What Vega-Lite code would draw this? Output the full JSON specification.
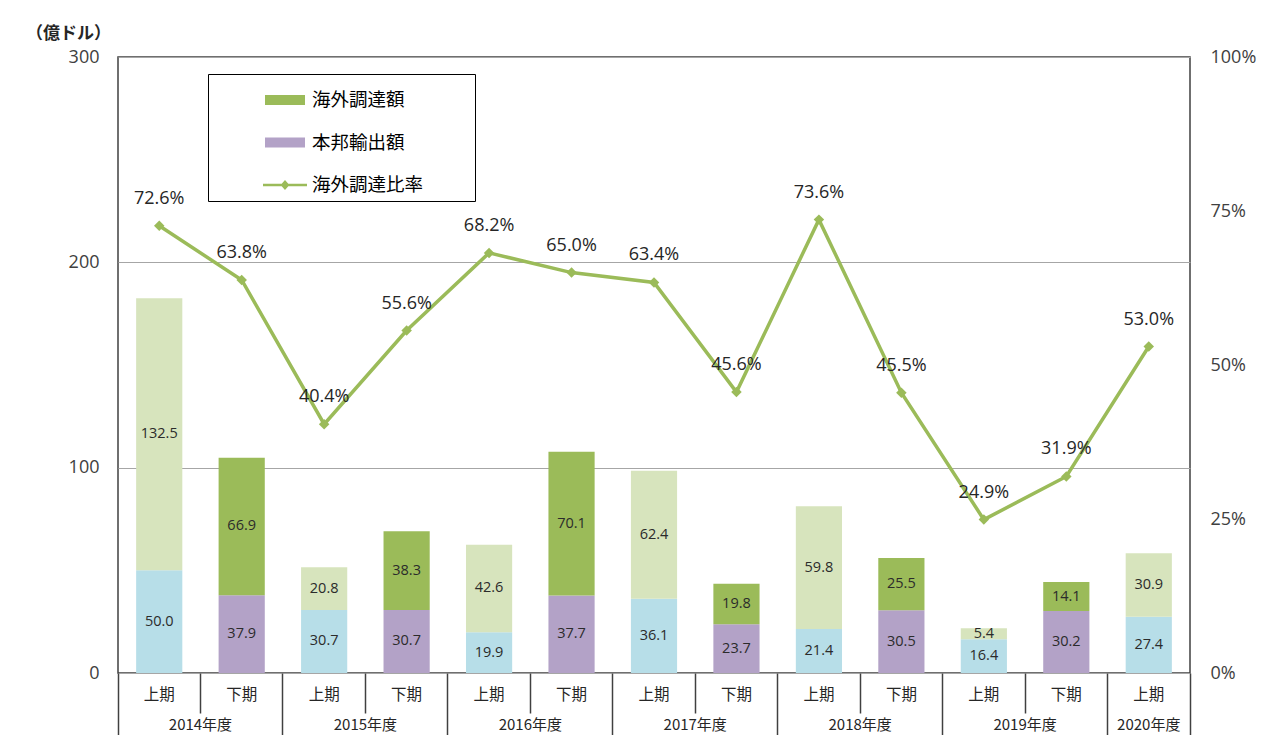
{
  "$schema": "https://vega.github.io/schema/vega-lite/v6.json",
  "width": 1072,
  "height": 616,
  "autosize": {"type": "none"},
  "padding": {"left": 118, "top": 57, "right": 86, "bottom": 62},
  "background": "white",
  "config": {
    "font": "Open Sans, Noto Sans CJK JP",
    "view": {"stroke": "#404040", "strokeWidth": 1.5},
    "axis": {"labelFont": "Open Sans, Noto Sans CJK JP", "titleFont": "Noto Sans CJK JP", "labelColor": "#262626"},
    "legend": {
      "labelFont": "Noto Sans CJK JP",
      "labelFontSize": 18.5,
      "labelColor": "#000000",
      "symbolSize": 1600,
      "symbolStrokeWidth": 0,
      "symbolType": "M-1,-0.25H1V0.25H-1Z",
      "strokeColor": "#000000",
      "fillColor": "white",
      "padding": 6,
      "rowPadding": 12.5,
      "symbolOffset": 51,
      "labelOffset": 7,
      "labelLimit": 300
    }
  },
  "datasets": {
    "bars": [
      {"cat": "2014上期", "half": "上期", "kind": "本邦輸出額", "value": 50.0},
      {"cat": "2014上期", "half": "上期", "kind": "海外調達額", "value": 132.5},
      {"cat": "2014下期", "half": "下期", "kind": "本邦輸出額", "value": 37.9},
      {"cat": "2014下期", "half": "下期", "kind": "海外調達額", "value": 66.9},
      {"cat": "2015上期", "half": "上期", "kind": "本邦輸出額", "value": 30.7},
      {"cat": "2015上期", "half": "上期", "kind": "海外調達額", "value": 20.8},
      {"cat": "2015下期", "half": "下期", "kind": "本邦輸出額", "value": 30.7},
      {"cat": "2015下期", "half": "下期", "kind": "海外調達額", "value": 38.3},
      {"cat": "2016上期", "half": "上期", "kind": "本邦輸出額", "value": 19.9},
      {"cat": "2016上期", "half": "上期", "kind": "海外調達額", "value": 42.6},
      {"cat": "2016下期", "half": "下期", "kind": "本邦輸出額", "value": 37.7},
      {"cat": "2016下期", "half": "下期", "kind": "海外調達額", "value": 70.1},
      {"cat": "2017上期", "half": "上期", "kind": "本邦輸出額", "value": 36.1},
      {"cat": "2017上期", "half": "上期", "kind": "海外調達額", "value": 62.4},
      {"cat": "2017下期", "half": "下期", "kind": "本邦輸出額", "value": 23.7},
      {"cat": "2017下期", "half": "下期", "kind": "海外調達額", "value": 19.8},
      {"cat": "2018上期", "half": "上期", "kind": "本邦輸出額", "value": 21.4},
      {"cat": "2018上期", "half": "上期", "kind": "海外調達額", "value": 59.8},
      {"cat": "2018下期", "half": "下期", "kind": "本邦輸出額", "value": 30.5},
      {"cat": "2018下期", "half": "下期", "kind": "海外調達額", "value": 25.5},
      {"cat": "2019上期", "half": "上期", "kind": "本邦輸出額", "value": 16.4},
      {"cat": "2019上期", "half": "上期", "kind": "海外調達額", "value": 5.4},
      {"cat": "2019下期", "half": "下期", "kind": "本邦輸出額", "value": 30.2},
      {"cat": "2019下期", "half": "下期", "kind": "海外調達額", "value": 14.1},
      {"cat": "2020上期", "half": "上期", "kind": "本邦輸出額", "value": 27.4},
      {"cat": "2020上期", "half": "上期", "kind": "海外調達額", "value": 30.9}
    ],
    "rate": [
      {"cat": "2014上期", "rate": 0.726},
      {"cat": "2014下期", "rate": 0.638},
      {"cat": "2015上期", "rate": 0.404},
      {"cat": "2015下期", "rate": 0.556},
      {"cat": "2016上期", "rate": 0.682},
      {"cat": "2016下期", "rate": 0.650},
      {"cat": "2017上期", "rate": 0.634},
      {"cat": "2017下期", "rate": 0.456},
      {"cat": "2018上期", "rate": 0.736},
      {"cat": "2018下期", "rate": 0.455},
      {"cat": "2019上期", "rate": 0.249},
      {"cat": "2019下期", "rate": 0.319},
      {"cat": "2020上期", "rate": 0.530}
    ]
  },
  "layer": [
    {
      "data": {"name": "bars"},
      "mark": {"type": "bar", "width": {"band": 0.56}},
      "encoding": {
        "x": {
          "field": "cat", "type": "nominal",
          "scale": {"paddingInner": 0, "paddingOuter": 0},
          "axis": {"orient": "bottom", "labelExpr": "slice(datum.value, 4)", "ticks": false, "domain": false, "labelPadding": 21, "labelBaseline": "middle", "labelAngle": 0, "labelFontSize": 15.5, "labelFont": "Noto Sans CJK JP", "title": null}
        },
        "y": {
          "field": "value", "type": "quantitative", "stack": "zero",
          "scale": {"domain": [0, 300], "nice": false},
          "axis": {"orient": "left", "values": [0, 100, 200, 300], "grid": true, "gridColor": "#a6a6a6", "gridWidth": 1.2, "domain": false, "ticks": false, "labelPadding": 19, "labelFontSize": 18, "labelColor": "#404040", "title": "（億ドル）", "titleAngle": 0, "titleX": -50, "titleY": -24, "titleAlign": "center", "titleBaseline": "middle", "titleFontSize": 17, "titleFontWeight": "bold", "titleColor": "#262626"}
        },
        "color": {
          "field": "kind", "type": "nominal",
          "scale": {"domain": ["海外調達額", "本邦輸出額", "海外調達比率"], "range": ["#9bbb59", "#b3a2c7", "#9bbb59"]},
          "legend": {
            "orient": "none", "legendX": 90, "legendY": 17, "title": null,
            "encode": {"symbols": {"update": {"shape": {"signal": "datum.value == '海外調達比率' ? 'M-1.1,-0.06H1.1V0.06H-1.1Z M0,-0.25L0.22,0L0,0.25L-0.22,0Z M9.2,0Z' : 'M-1,-0.25H1V0.25H-1Z M9.2,0Z'"}}}}
          },
          "condition": [
            {"test": "datum.half == '上期' && datum.kind == '本邦輸出額'", "value": "#b7dee8"},
            {"test": "datum.half == '上期' && datum.kind == '海外調達額'", "value": "#d7e4bd"}
          ]
        },
        "order": {"field": "kind", "type": "ordinal", "sort": "ascending"}
      }
    },
    {
      "data": {"name": "bars"},
      "transform": [
        {"stack": "value", "groupby": ["cat"], "sort": [{"field": "kind", "order": "ascending"}], "as": ["y0", "y1"]},
        {"fold": ["y0", "y1"], "as": ["edge", "pos"]},
        {"aggregate": [{"op": "mean", "field": "pos", "as": "mid"}, {"op": "max", "field": "value", "as": "v"}], "groupby": ["cat", "kind"]}
      ],
      "mark": {"type": "text", "fontSize": 14.5, "color": "#2b2b2b", "baseline": "middle", "align": "center"},
      "encoding": {
        "x": {
          "field": "cat", "type": "nominal",
          "axis": {"orient": "bottom", "labelExpr": "slice(datum.value, 4) == '上期' ? slice(datum.value, 0, 4) + '年度' : ''", "ticks": false, "domain": false, "labelPadding": 51, "labelBaseline": "middle", "labelAngle": 0, "labelFontSize": 15, "labelFont": "Noto Sans CJK JP", "labelOffset": {"condition": {"test": "datum.value == '2020上期'", "value": 0}, "value": 41.23}, "title": null}
        },
        "y": {"field": "mid", "type": "quantitative", "scale": {"domain": [0, 300], "nice": false}, "axis": null},
        "text": {"field": "v", "type": "quantitative", "format": ".1f"}
      }
    },
    {
      "data": {"name": "rate"},
      "mark": {"type": "line", "color": "#9bbb59", "strokeWidth": 3.5},
      "encoding": {
        "x": {
          "field": "cat", "type": "nominal",
          "axis": {"orient": "bottom", "labels": false, "domain": false, "ticks": true, "bandPosition": 0, "tickSize": {"condition": {"test": "slice(datum.value, 4) == '上期'", "value": 62}, "value": 40}, "tickColor": "#404040", "tickWidth": 1.5, "title": null}
        },
        "y": {
          "field": "rate", "type": "quantitative",
          "scale": {"domain": [0, 1], "nice": false},
          "axis": {"orient": "right", "values": [0, 0.25, 0.5, 0.75, 1], "format": ".0%", "grid": false, "domain": false, "ticks": false, "labelPadding": 20, "labelFontSize": 18, "labelColor": "#404040", "title": null}
        }
      }
    },
    {
      "data": {"name": "rate"},
      "mark": {"type": "point", "shape": "diamond", "filled": true, "size": 110, "color": "#9bbb59", "opacity": 1},
      "encoding": {
        "x": {
          "field": "cat", "type": "nominal",
          "axis": {"orient": "bottom", "values": ["2020上期"], "labels": false, "domain": false, "ticks": true, "bandPosition": 1, "tickSize": 62, "tickColor": "#404040", "tickWidth": 1.5, "title": null}
        },
        "y": {"field": "rate", "type": "quantitative", "scale": {"domain": [0, 1], "nice": false}, "axis": null}
      }
    },
    {
      "data": {"name": "rate"},
      "mark": {"type": "text", "fontSize": 18, "color": "#262626", "dy": -27, "baseline": "middle"},
      "encoding": {
        "x": {"field": "cat", "type": "nominal", "axis": null},
        "y": {"field": "rate", "type": "quantitative", "scale": {"domain": [0, 1], "nice": false}, "axis": null},
        "text": {"field": "rate", "type": "quantitative", "format": ".1%"}
      }
    }
  ],
  "resolve": {"scale": {"y": "independent"}, "axis": {"x": "independent", "y": "independent"}}
}
